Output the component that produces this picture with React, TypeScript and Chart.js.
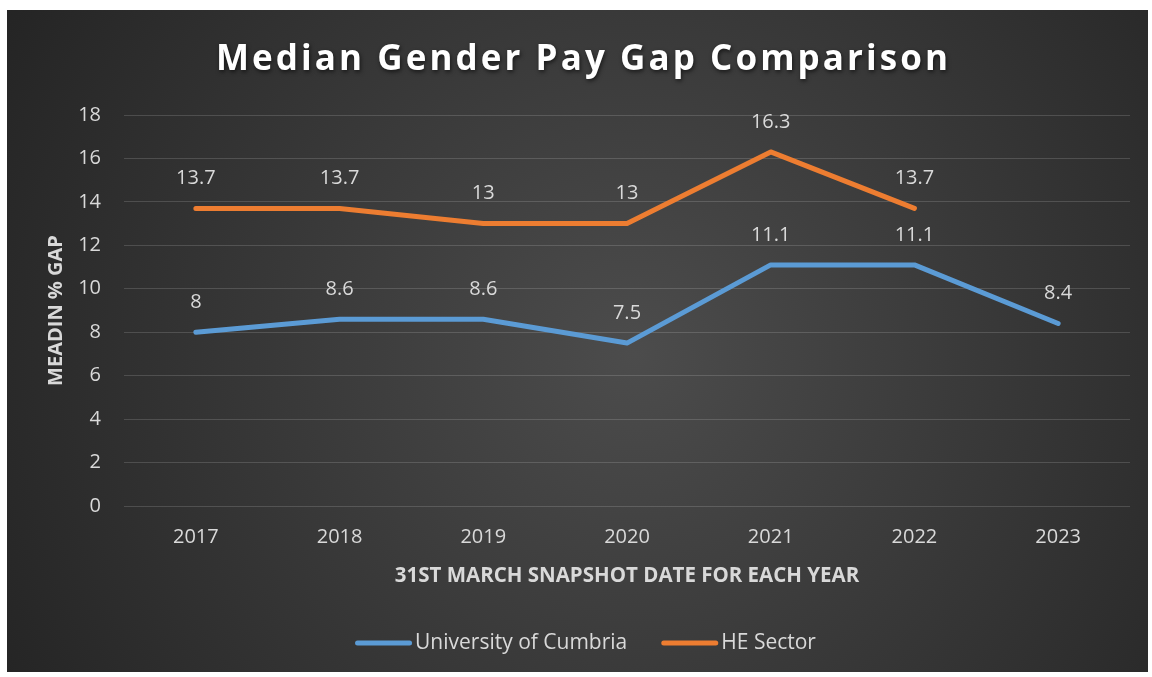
import React, { useEffect, useRef } from "react";
import { Chart, registerables } from "chart.js";

Chart.register(...registerables);

const categories = ["2017", "2018", "2019", "2020", "2021", "2022", "2023"];
const cumbriaValues = [8, 8.6, 8.6, 7.5, 11.1, 11.1, 8.4];
const sectorValues: (number | null)[] = [13.7, 13.7, 13, 13, 16.3, 13.7, null];
const seriesNames = ["University of Cumbria", "HE Sector"];
const seriesColors = ["#5b9bd5", "#ed7d31"];
const titleText = "Median Gender Pay Gap Comparison";
const yTitle = "MEADIN % GAP";
const xTitle = "31ST MARCH SNAPSHOT DATE FOR EACH YEAR";

const FONT = "'Open Sans', sans-serif";
const TEXT = "#d9d9d9";

const bgPlugin = {
  id: "bgGradient",
  beforeDraw(chart: any) {
    const { ctx, width, height } = chart;
    ctx.save();
    const g = ctx.createRadialGradient(width * 0.55, height * 0.52, 0, width * 0.55, height * 0.52, Math.hypot(width, height) * 0.55);
    g.addColorStop(0, "#4c4c4c");
    g.addColorStop(1, "#242424");
    ctx.fillStyle = g;
    ctx.fillRect(0, 0, width, height);
    ctx.restore();
  },
};

const titlePlugin = {
  id: "customTitle",
  afterDraw(chart: any) {
    const { ctx } = chart;
    ctx.save();
    ctx.font = `bold 35px ${FONT}`;
    const w0 = ctx.measureText(titleText).width;
    const target = 732;
    const sp = Math.max(0, (target - w0) / (titleText.length - 1));
    (ctx as any).letterSpacing = `${sp}px`;
    ctx.textAlign = "left";
    ctx.textBaseline = "alphabetic";
    ctx.shadowColor = "rgba(0,0,0,0.6)";
    ctx.shadowBlur = 4;
    ctx.shadowOffsetX = 1;
    ctx.shadowOffsetY = 2;
    ctx.fillStyle = "#ffffff";
    ctx.fillText(titleText, 575 - target / 2, 60);
    ctx.restore();
  },
};

const labelPlugin = {
  id: "dataLabels",
  afterDatasetsDraw(chart: any) {
    const { ctx } = chart;
    ctx.save();
    ctx.font = `20px ${FONT}`;
    ctx.fillStyle = TEXT;
    ctx.textAlign = "center";
    ctx.textBaseline = "middle";
    chart.data.datasets.forEach((ds: any, i: number) => {
      const meta = chart.getDatasetMeta(i);
      meta.data.forEach((pt: any, j: number) => {
        const v = ds.data[j];
        if (v === null || v === undefined) return;
        ctx.fillText(String(v), pt.x, pt.y - 30);
      });
    });
    ctx.restore();
  },
};

const legendPlugin = {
  id: "customLegend",
  afterDraw(chart: any) {
    const { ctx, width } = chart;
    ctx.save();
    ctx.font = `21px ${FONT}`;
    ctx.textBaseline = "middle";
    ctx.textAlign = "left";
    const swatch = 57;
    const gapText = 3;
    const gapItem = 34;
    const items = chart.data.datasets.map((ds: any) => ({
      text: ds.label,
      color: ds.borderColor,
      w: ctx.measureText(ds.label).width,
    }));
    const total = items.reduce((a: number, it: any) => a + swatch + gapText + it.w, 0) + gapItem * (items.length - 1);
    let x = width / 2 + 8 - total / 2;
    const y = 633;
    items.forEach((it: any) => {
      ctx.strokeStyle = it.color;
      ctx.lineWidth = 5;
      ctx.lineCap = "round";
      ctx.beginPath();
      ctx.moveTo(x + 2.5, y);
      ctx.lineTo(x + swatch - 2.5, y);
      ctx.stroke();
      ctx.fillStyle = TEXT;
      ctx.fillText(it.text, x + swatch + gapText, y);
      x += swatch + gapText + it.w + gapItem;
    });
    ctx.restore();
  },
};

export default function App() {
  const ref = useRef<HTMLCanvasElement>(null);
  useEffect(() => {
    if (!ref.current) return;
    const chart = new Chart(ref.current, {
      type: "line",
      data: {
        labels: categories,
        datasets: [
          {
            label: seriesNames[0],
            data: cumbriaValues,
            borderColor: seriesColors[0],
            backgroundColor: seriesColors[0],
            borderWidth: 5,
            borderCapStyle: "round",
            borderJoinStyle: "round",
            pointRadius: 0,
            tension: 0,
          },
          {
            label: seriesNames[1],
            data: sectorValues,
            borderColor: seriesColors[1],
            backgroundColor: seriesColors[1],
            borderWidth: 5,
            borderCapStyle: "round",
            borderJoinStyle: "round",
            pointRadius: 0,
            tension: 0,
          },
        ],
      },
      options: {
        animation: false,
        responsive: true,
        maintainAspectRatio: false,
        layout: { padding: { top: 105, left: 20, right: 18, bottom: 66 } },
        plugins: {
          title: { display: false },
          tooltip: { enabled: false },
          legend: { display: false },
        },
        scales: {
          x: {
            offset: true,
            grid: { display: false, drawTicks: false },
            border: { display: false },
            ticks: { color: TEXT, font: { family: FONT, size: 20 }, padding: 19, maxRotation: 0 },
            title: {
              display: true,
              text: xTitle,
              color: TEXT,
              font: { family: FONT, size: 20.5, weight: "bold" },
              padding: { top: 0, bottom: 18 },
            },
            afterFit: (s: any) => {
              s.height = 100;
            },
          },
          y: {
            min: 0,
            max: 18,
            ticks: { stepSize: 2, color: TEXT, font: { family: FONT, size: 20 }, padding: 23 },
            grid: { color: "rgba(255,255,255,0.15)", lineWidth: 1, drawTicks: false },
            border: { display: false },
            title: {
              display: true,
              text: yTitle,
              color: TEXT,
              font: { family: FONT, size: 20, weight: "bold" },
              padding: { top: 17, bottom: 0 },
            },
            afterFit: (s: any) => {
              s.width = 97;
            },
          },
        },
      },
      plugins: [bgPlugin, labelPlugin, titlePlugin, legendPlugin],
    });
    return () => chart.destroy();
  }, []);
  return (
    <div style={{ position: "absolute", left: 7, top: 10, width: 1141, height: 662 }}>
      <canvas ref={ref} />
    </div>
  );
}
